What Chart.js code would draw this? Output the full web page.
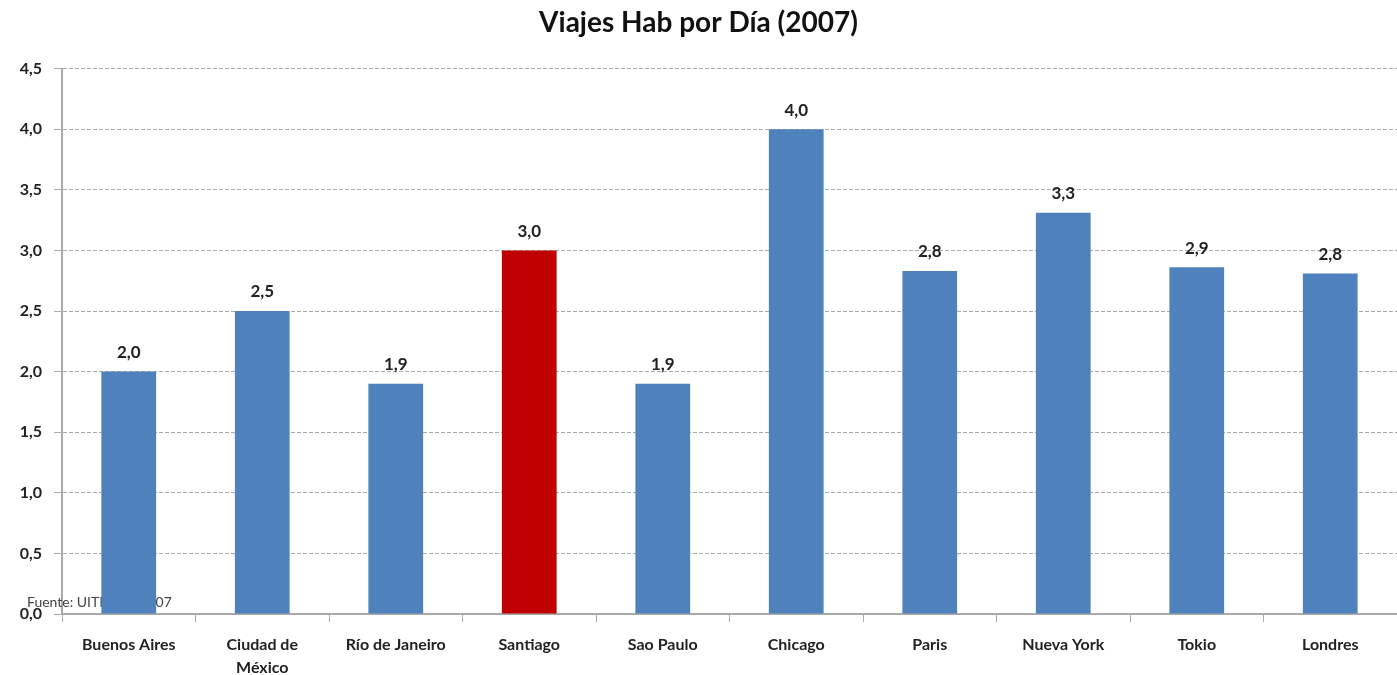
<!DOCTYPE html>
<html><head><meta charset="utf-8">
<script src="https://cdn.jsdelivr.net/npm/chart.js@4.4.1/dist/chart.umd.min.js"></script>
<style>html,body{margin:0;padding:0;background:#fff;}#wrap{width:1397px;height:675px;}</style>
</head><body><div id="wrap"><canvas id="c" width="1397" height="675"></canvas></div>
<script>
const categories = ["Buenos Aires", ["Ciudad de", "México"], "Río de Janeiro", "Santiago", "Sao Paulo", "Chicago", "Paris", "Nueva York", "Tokio", "Londres"];
const tripsPerDay = [2.0, 2.5, 1.9, 3.0, 1.9, 4.0, 2.83, 3.31, 2.86, 2.81];
const barColors = ["#4f81bd", "#4f81bd", "#4f81bd", "#c00000", "#4f81bd", "#4f81bd", "#4f81bd", "#4f81bd", "#4f81bd", "#4f81bd"];
const titleText = "Viajes Hab por Día (2007)";
const sourceText = "Fuente: UITP, año 2007";
const fmt = v => Number(v).toFixed(1).replace('.', ',');
const FONT = "Lato, 'Open Sans', sans-serif";

const sourcePlugin = {
  id: 'source',
  beforeDatasetsDraw(chart) {
    const ctx = chart.ctx;
    ctx.save();
    ctx.font = "14px " + FONT;
    ctx.fillStyle = "#444";
    ctx.textAlign = "left";
    ctx.textBaseline = "middle";
    ctx.fillText(sourceText, 27, chart.scales.y.getPixelForValue(0) - 12);
    ctx.restore();
  }
};
const labelPlugin = {
  id: 'vlabels',
  afterDatasetsDraw(chart) {
    const ctx = chart.ctx;
    const meta = chart.getDatasetMeta(0);
    ctx.save();
    ctx.font = "bold 17px " + FONT;
    ctx.fillStyle = "#222";
    ctx.textAlign = "center";
    ctx.textBaseline = "middle";
    meta.data.forEach((bar, i) => {
      ctx.fillText(fmt(chart.data.datasets[0].data[i]), bar.x, bar.y - 19);
    });
    ctx.restore();
  }
};

new Chart(document.getElementById('c'), {
  type: 'bar',
  data: {
    labels: categories,
    datasets: [{ data: tripsPerDay, backgroundColor: barColors, barPercentage: 0.41, categoryPercentage: 1.0 }]
  },
  options: {
    responsive: false,
    animation: false,
    layout: { padding: { left: 0, right: 0, top: 0, bottom: 0 } },
    plugins: {
      legend: { display: false },
      tooltip: { enabled: false },
      title: { display: true, text: titleText, color: "#111", font: { family: FONT, size: 28, weight: 'bold' }, padding: { top: 6, bottom: 29 } }
    },
    scales: {
      x: {
        afterFit: s => { s.height = 61; },
        grid: { display: true, offset: true, drawOnChartArea: false, drawTicks: true, tickLength: 8, color: "#aaa" },
        border: { color: "#aaa", width: 2 },
        ticks: { color: "#222", font: { family: FONT, size: 16, weight: 'bold', lineHeight: 1.4 }, maxRotation: 0, autoSkip: false, padding: 12 }
      },
      y: {
        min: 0, max: 4.5,
        afterFit: s => { s.width = 62; },
        grid: { color: "#aaa", drawTicks: true, tickLength: 8, tickBorderDash: [] },
        border: { color: "#aaa", width: 2, dash: [4, 2] },
        ticks: { stepSize: 0.5, color: "#222", font: { family: FONT, size: 16, weight: 'bold' }, padding: 12, callback: v => fmt(v) }
      }
    }
  },
  plugins: [sourcePlugin, labelPlugin]
});
</script></body></html>
